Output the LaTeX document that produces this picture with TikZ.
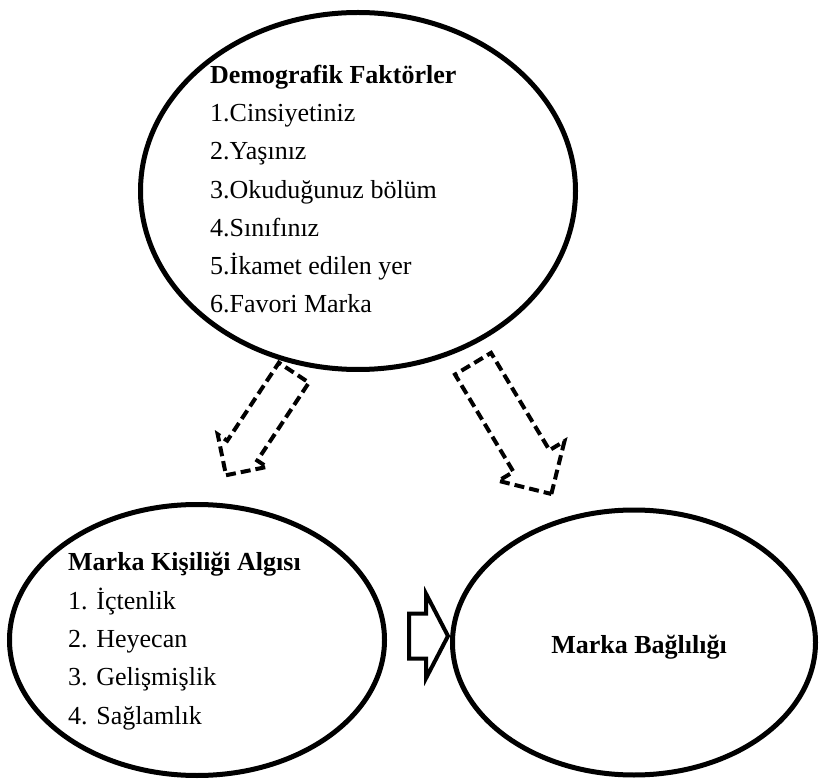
\documentclass[tikz,border=0pt]{standalone}
\usepackage{fontspec}
\setmainfont{Liberation Serif}
\usetikzlibrary{shapes.geometric,shapes.arrows}

\begin{document}
\begin{tikzpicture}[
    x=1pt, y=1pt,
    font=\fontsize{26}{38.3}\selectfont,
    construct/.style={
        ellipse,
        draw=black,
        line width=5pt,
        inner sep=0pt
    },
    itemlist/.style={
        align=left,
        inner sep=0pt,
        anchor=base west
    },
    dashedflow/.style={
        single arrow,
        draw=black,
        dash pattern=on 10pt off 5pt,
        line width=4pt,
        inner sep=0pt,
        single arrow tip angle=90,
        anchor=tail
    },
    solidflow/.style={
        single arrow,
        draw=black,
        line width=4pt,
        inner sep=0pt,
        anchor=tail
    }
]
    \useasboundingbox (0,0) rectangle (819,780);

    % 1. Demografik faktorler (top)
    \node[construct, minimum width=435, minimum height=357] (demo) at (358,589) {};
    \node[itemlist] (demoliste) at (210,467) {
        \textbf{Demografik Faktörler}\\
        1.Cinsiyetiniz\\
        2.Yaşınız\\
        3.Okuduğunuz bölüm\\
        4.Sınıfınız\\
        5.İkamet edilen yer\\
        6.Favori Marka
    };

    % 2. Marka kisiligi algisi (bottom left)
    \node[construct, minimum width=375, minimum height=271] (algi) at (197,140) {};
    \node[itemlist] (algiliste) at (68,56) {
        \textbf{Marka Kişiliği Algısı}\\
        1. İçtenlik\\
        2. Heyecan\\
        3. Gelişmişlik\\
        4. Sağlamlık
    };

    % 3. Marka bagliligi (bottom right)
    \node[construct, minimum width=363, minimum height=265] (bag) at (634,137.5) {};
    \node[inner sep=0pt, anchor=base] (bagyazi) at (639,127) {\textbf{Marka Bağlılığı}};

    % Block arrows
    \node[dashedflow, rotate=236.5, minimum height=123, inner ysep=16,
          single arrow head extend=11.5] (solok) at (295,409) {};
    \node[dashedflow, rotate=301, minimum height=152, inner ysep=19,
          single arrow head extend=17.5] (sagok) at (472,418) {};
    \node[solidflow, minimum height=39, inner ysep=20.5,
          single arrow head extend=19.5, single arrow tip angle=125] (gecis) at (407,144) {};

\end{tikzpicture}
\end{document}
